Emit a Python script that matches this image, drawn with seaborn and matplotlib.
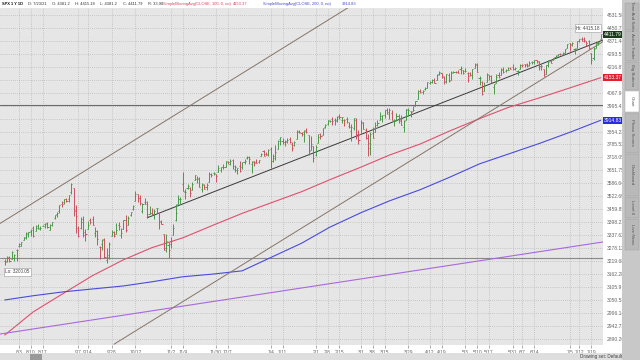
import numpy as np
import pandas as pd
import matplotlib
matplotlib.use("Agg")
import matplotlib.pyplot as plt
import seaborn as sns
from matplotlib.patches import Rectangle
from matplotlib.ticker import NullLocator

# trading days shown (1 year, daily bars)
holidays = ["2020-09-07", "2020-11-26", "2020-12-25", "2021-01-01", "2021-01-18",
            "2021-02-15", "2021-04-02", "2021-05-31", "2021-07-05"]
days = pd.bdate_range("2020-07-24", "2021-07-23")
days = days[~days.isin(pd.to_datetime(holidays))]

opens = [3219, 3219, 3235, 3227, 3232, 3270,
         3289, 3289, 3317, 3323, 3341, 3357, 3370, 3356, 3373, 3368, 3381, 3388, 3392, 3361, 3386, 3418, 3436, 3449, 3486, 3494, 3509,
         3507, 3543, 3565, 3453, 3372, 3369, 3413, 3353, 3364, 3407, 3411, 3347, 3357, 3285, 3296, 3321, 3226, 3236, 3333, 3350, 3341,
         3385, 3339, 3367, 3409, 3385, 3434, 3459, 3500, 3534, 3515, 3453, 3493, 3494, 3439, 3440, 3439, 3465, 3441, 3404, 3342, 3278, 3293,
         3297, 3336, 3407, 3485, 3508, 3583, 3544, 3563, 3562, 3553, 3601, 3610, 3612, 3559, 3580, 3566, 3594, 3635, 3638, 3634,
         3645, 3654, 3669, 3671, 3694, 3683, 3706, 3661, 3656, 3675, 3667, 3697, 3714, 3722, 3684, 3698, 3693, 3694, 3723, 3750, 3737, 3734,
         3764, 3699, 3713, 3764, 3816, 3803, 3801, 3802, 3814, 3788, 3782, 3817, 3858, 3845, 3852, 3862, 3836, 3755, 3779,
         3732, 3791, 3840, 3836, 3878, 3893, 3910, 3920, 3916, 3912, 3939, 3919, 3915, 3921, 3885, 3857, 3873, 3915, 3839,
         3842, 3903, 3863, 3818, 3793, 3844, 3851, 3891, 3916, 3924, 3943, 3974, 3949, 3953, 3913, 3916, 3937, 3919, 3880, 3917, 3970, 3964, 3968,
         3993, 4035, 4075, 4074, 4089, 4096, 4124, 4130, 4141, 4140, 4174, 4180, 4160, 4129, 4171, 4139, 4185, 4189, 4185, 4206, 4198,
         4192, 4180, 4178, 4169, 4210, 4229, 4150, 4131, 4075, 4130, 4170, 4165, 4098, 4122, 4168, 4170, 4205, 4191, 4201, 4210,
         4216, 4207, 4191, 4207, 4229, 4234, 4232, 4229, 4243, 4248, 4256, 4249, 4220, 4204, 4174, 4225, 4249, 4257, 4274, 4285, 4293, 4290,
         4301, 4327, 4356, 4351, 4321, 4330, 4373, 4381, 4381, 4370, 4368, 4296, 4266, 4331, 4361, 4381]

highs = [3227, 3241, 3243, 3264, 3251, 3272,
         3302, 3307, 3331, 3351, 3353, 3364, 3381, 3387, 3388, 3379, 3387, 3395, 3399, 3391, 3400, 3432, 3445, 3481, 3501, 3510, 3514,
         3529, 3588, 3565, 3479, 3380, 3424, 3426, 3368, 3403, 3419, 3428, 3376, 3363, 3286, 3320, 3324, 3279, 3306, 3360, 3358, 3393,
         3397, 3370, 3409, 3432, 3426, 3447, 3482, 3550, 3534, 3527, 3490, 3515, 3502, 3476, 3465, 3461, 3466, 3441, 3409, 3342, 3342, 3305,
         3331, 3389, 3486, 3529, 3521, 3646, 3558, 3581, 3570, 3593, 3628, 3624, 3620, 3586, 3582, 3590, 3642, 3636, 3644, 3634,
         3679, 3670, 3682, 3700, 3698, 3708, 3712, 3678, 3665, 3698, 3695, 3711, 3725, 3726, 3702, 3700, 3712, 3704, 3740, 3756, 3744, 3760,
         3770, 3738, 3784, 3811, 3827, 3818, 3811, 3820, 3823, 3796, 3805, 3860, 3862, 3853, 3860, 3871, 3836, 3831, 3779,
         3784, 3843, 3847, 3872, 3894, 3916, 3919, 3932, 3925, 3937, 3951, 3933, 3921, 3931, 3903, 3895, 3929, 3926, 3862,
         3914, 3906, 3875, 3843, 3851, 3881, 3903, 3918, 3961, 3945, 3970, 3981, 3984, 3969, 3920, 3956, 3950, 3943, 3919, 3978, 3981, 3968, 3995,
         4021, 4084, 4087, 4083, 4098, 4130, 4132, 4148, 4151, 4174, 4191, 4181, 4164, 4176, 4180, 4195, 4194, 4193, 4201, 4219, 4199,
         4209, 4187, 4187, 4203, 4238, 4237, 4162, 4134, 4131, 4183, 4171, 4170, 4117, 4173, 4189, 4209, 4213, 4203, 4213, 4218,
         4234, 4216, 4198, 4234, 4232, 4236, 4237, 4250, 4249, 4255, 4258, 4251, 4232, 4204, 4226, 4256, 4256, 4271, 4286, 4293, 4300, 4302,
         4320, 4355, 4357, 4362, 4331, 4372, 4386, 4393, 4393, 4370, 4376, 4296, 4337, 4360, 4370, 4415]

lows = [3200, 3214, 3216, 3227, 3220, 3220,
        3285, 3288, 3317, 3318, 3329, 3335, 3329, 3356, 3364, 3361, 3380, 3371, 3369, 3360, 3379, 3413, 3425, 3444, 3469, 3486, 3494,
        3494, 3535, 3427, 3349, 3329, 3367, 3329, 3311, 3364, 3390, 3383, 3328, 3292, 3229, 3271, 3233, 3209, 3228, 3333, 3327, 3341,
        3362, 3324, 3367, 3354, 3385, 3426, 3458, 3500, 3496, 3481, 3441, 3483, 3419, 3435, 3433, 3415, 3441, 3364, 3388, 3268, 3259, 3234,
        3280, 3336, 3405, 3485, 3485, 3547, 3511, 3557, 3519, 3553, 3601, 3589, 3567, 3544, 3556, 3553, 3594, 3617, 3630, 3595,
        3645, 3644, 3661, 3669, 3684, 3678, 3660, 3646, 3633, 3646, 3660, 3685, 3710, 3685, 3637, 3676, 3689, 3690, 3723, 3723, 3730, 3726,
        3663, 3695, 3705, 3764, 3785, 3789, 3776, 3792, 3792, 3750, 3780, 3817, 3845, 3831, 3797, 3847, 3732, 3755, 3694,
        3726, 3791, 3817, 3836, 3874, 3892, 3903, 3890, 3891, 3905, 3923, 3899, 3885, 3901, 3874, 3805, 3860, 3814, 3789,
        3842, 3868, 3815, 3723, 3730, 3819, 3851, 3886, 3916, 3903, 3925, 3949, 3922, 3914, 3885, 3910, 3901, 3889, 3853, 3917, 3939, 3934, 3966,
        3992, 4035, 4068, 4063, 4083, 4095, 4115, 4124, 4121, 4140, 4171, 4150, 4119, 4126, 4130, 4138, 4183, 4181, 4182, 4177, 4174,
        4188, 4128, 4162, 4147, 4210, 4188, 4111, 4056, 4075, 4130, 4143, 4125, 4062, 4122, 4152, 4168, 4183, 4189, 4197, 4203,
        4197, 4198, 4168, 4207, 4213, 4215, 4218, 4221, 4233, 4235, 4239, 4196, 4196, 4164, 4174, 4218, 4240, 4257, 4267, 4281, 4287, 4287,
        4300, 4327, 4313, 4340, 4290, 4330, 4363, 4369, 4363, 4341, 4325, 4233, 4259, 4328, 4348, 4381]

closes = [3216, 3239, 3218, 3258, 3246, 3271,
          3295, 3307, 3328, 3349, 3351, 3360, 3334, 3380, 3373, 3373, 3382, 3390, 3375, 3386, 3397, 3431, 3444, 3479, 3485, 3508, 3500,
          3527, 3581, 3455, 3427, 3332, 3399, 3339, 3341, 3384, 3401, 3385, 3357, 3319, 3281, 3316, 3237, 3247, 3298, 3352, 3335, 3363,
          3381, 3348, 3409, 3361, 3419, 3447, 3477, 3534, 3512, 3489, 3483, 3484, 3427, 3443, 3436, 3453, 3465, 3401, 3391, 3271, 3310, 3270,
          3310, 3369, 3443, 3510, 3509, 3551, 3546, 3573, 3537, 3585, 3627, 3610, 3568, 3582, 3558, 3578, 3635, 3630, 3638, 3622,
          3662, 3669, 3667, 3699, 3692, 3702, 3673, 3668, 3663, 3647, 3695, 3701, 3722, 3709, 3695, 3687, 3690, 3703, 3735, 3727, 3732, 3756,
          3701, 3727, 3748, 3804, 3825, 3800, 3801, 3810, 3796, 3768, 3799, 3852, 3853, 3841, 3855, 3850, 3751, 3787, 3714,
          3774, 3826, 3830, 3872, 3887, 3916, 3911, 3910, 3916, 3935, 3933, 3931, 3914, 3907, 3877, 3881, 3925, 3829, 3811,
          3902, 3870, 3820, 3768, 3842, 3821, 3875, 3899, 3939, 3943, 3969, 3963, 3974, 3915, 3913, 3941, 3911, 3889, 3910, 3975, 3971, 3959, 3973,
          4020, 4078, 4074, 4080, 4097, 4129, 4128, 4142, 4125, 4170, 4185, 4163, 4135, 4173, 4135, 4180, 4188, 4187, 4183, 4211, 4181,
          4193, 4165, 4168, 4202, 4233, 4188, 4152, 4063, 4113, 4174, 4163, 4128, 4116, 4159, 4156, 4197, 4188, 4196, 4201, 4204,
          4202, 4208, 4193, 4230, 4227, 4227, 4220, 4239, 4247, 4255, 4247, 4224, 4222, 4166, 4225, 4246, 4242, 4266, 4281, 4291, 4292, 4298,
          4320, 4352, 4344, 4358, 4321, 4370, 4385, 4369, 4374, 4360, 4327, 4258, 4323, 4359, 4367, 4411.79]

# moving averages at intervals
sma_idx = [0, 12, 25, 37, 50, 62, 75, 88, 100, 112, 125, 137, 150, 162, 175, 187, 200, 212, 225, 238, 251]
sma100 = [2905, 3000, 3080, 3155, 3225, 3280, 3325, 3385, 3440, 3490, 3545, 3605, 3668, 3730,
          3788, 3855, 3924, 3985, 4038, 4095, 4153.37]
sma200 = [3050, 3068, 3085, 3097, 3110, 3128, 3150, 3162, 3176, 3235, 3300, 3375, 3443, 3500,
          3555, 3615, 3685, 3735, 3790, 3850, 3914.83]

# drawings (bar index, price)
upper_channel = ([-2, 170], [3392, 4822])
lower_channel = ([46, 252], [2868, 4367])
trend_line = ([60, 252], [3419, 4377])
purple_line = ([-2, 252], [2909, 3306])
hlines_price = [4000, 3233]

y_ticks = [4531.58, 4450.73, 4371.44, 4293.51, 4216.87, 4141.64, 4067.94, 3995.42, 3924.16,
           3854.23, 3785.52, 3718.05, 3651.75, 3586.64, 3522.69, 3459.85, 3398.21, 3337.62,
           3278.12, 3219.68, 3162.28, 3105.9, 3050.53, 2996.14, 2942.73, 2890.26]
# labels hidden behind the SMA price markers
hidden_ticks = [4141.64, 3924.16]

tick_dates = ["2020-08-03", "2020-08-10", "2020-08-17", "2020-09-07", "2020-09-14", "2020-09-28",
              "2020-10-12", "2020-11-02", "2020-11-09", "2020-11-30", "2020-12-07", "2021-01-04",
              "2021-01-11", "2021-02-01", "2021-02-08", "2021-02-15", "2021-03-01", "2021-03-08",
              "2021-03-15", "2021-03-29", "2021-04-12", "2021-04-19", "2021-05-03", "2021-05-10",
              "2021-05-17", "2021-05-31", "2021-06-07", "2021-06-14", "2021-07-05", "2021-07-12",
              "2021-07-19"]
tick_labels = ["8/3", "8/10", "8/17", "9/7", "9/14", "9/28", "10/12", "11/2", "11/9", "11/30",
               "12/7", "1/4", "1/11", "2/1", "2/8", "2/15", "3/1", "3/8", "3/15", "3/29", "4/12",
               "4/19", "5/3", "5/10", "5/17", "5/31", "6/7", "6/14", "7/5", "7/12", "7/19"]

side_tabs = ["Time And Sales", "Active Trader", "Big Buttons", "Chart", "Phase Scores",
             "Dashboard", "Level II", "Live News"]

sns.set_theme(style="white")
plt.rcParams["font.family"] = ["Liberation Sans", "DejaVu Sans"]

W, H = 640, 360
fig = plt.figure(figsize=(6.4, 3.6), dpi=100)
fig.patch.set_facecolor("white")


def px_rect(x0, y0, x1, y1):
    return [x0 / W, 1 - y1 / H, (x1 - x0) / W, (y1 - y0) / H]


ax = fig.add_axes(px_rect(0, 8, 603, 345))
ax.set_facecolor("#e6e6e6")
ax.set_yscale("log")
ax.set_xlim(-2, 252)
ax.set_ylim(2865, 4576)

# OHLC bars
x = np.arange(len(closes))
o = np.array(opens, dtype=float)
c = np.array(closes, dtype=float)
col = np.where(c >= o, "#4a984a", "#cc5060")
ax.vlines(x, lows, highs, colors=col, linewidth=0.7, zorder=3)
ax.hlines(o, x - 0.45, x, colors=col, linewidth=0.7, zorder=3)
ax.hlines(c, x, x + 0.45, colors=col, linewidth=0.7, zorder=3)

# moving averages
sns.lineplot(x=sma_idx, y=sma100, ax=ax, color="#e0506e", linewidth=0.8, zorder=2)
sns.lineplot(x=sma_idx, y=sma200, ax=ax, color="#4a4ae0", linewidth=0.8, zorder=2)

# drawings
ax.plot(*purple_line, color="#a868e0", linewidth=0.8, zorder=2)
ax.plot(*upper_channel, color="#857468", linewidth=0.7, zorder=2)
ax.plot(*lower_channel, color="#857468", linewidth=0.7, zorder=2)
ax.plot(*trend_line, color="#3a3a3a", linewidth=0.7, zorder=2)
ax.axhline(hlines_price[0], color="#6a6a6a", linewidth=0.8, zorder=1)
ax.axhline(hlines_price[1], color="#8a8a8a", linewidth=0.8, zorder=1)

# axes, ticks, grid
ax.set_xlabel("")
ax.set_ylabel("")
ax.yaxis.tick_right()
ax.set_yticks(y_ticks)
ax.set_yticklabels(["" if v in hidden_ticks else f"{v:g}" for v in y_ticks])
ax.yaxis.set_minor_locator(NullLocator())
ax.tick_params(axis="y", length=0, pad=3, labelsize=3.6, labelcolor="#666666")
tick_pos = days.searchsorted(pd.to_datetime(tick_dates))
ax.set_xticks(tick_pos)
ax.set_xticklabels(tick_labels)
ax.tick_params(axis="x", length=2, width=0.5, color="#888888", pad=1.5,
               labelsize=3.5, labelcolor="#666666", bottom=True)
ax.grid(True, color="#a9a9a9", linestyle=(0, (1, 2)), linewidth=0.5)
for s in ax.spines.values():
    s.set_visible(False)

# price markers on the right axis
yt = ax.get_yaxis_transform()
for val, fc in [(closes[-1], "#1c3d1c"), (sma100[-1], "#e0202a"), (sma200[-1], "#2a2ae0")]:
    ax.text(1.002, val, f"{val:.2f}", transform=yt, ha="left", va="center", fontsize=3.6,
            color="white", zorder=6,
            bbox=dict(boxstyle="square,pad=0.2", fc=fc, ec="none"))

# hi / lo bubbles
ax.text(250.5, 4450, "Hi: 4415.18", ha="right", va="center", fontsize=3.3, color="#444444",
        zorder=6, bbox=dict(boxstyle="square,pad=0.25", fc="white", ec="#999999", lw=0.4))
ax.text(0.2, 3171, "Lo: 3200.05", ha="left", va="center", fontsize=3.3, color="#444444",
        zorder=6, bbox=dict(boxstyle="square,pad=0.25", fc="white", ec="#999999", lw=0.4))

# header line
red_t, blue_t = "#d8405a", "#4444cc"
header = [(2, "SPX 1 Y 1D", "#111111", "bold"), (28, "D: 7/23/21", "#333333", "normal"),
          (52, "O: 4381.2", "#333333", "normal"), (75, "H: 4415.18", "#333333", "normal"),
          (100, "L: 4381.2", "#333333", "normal"), (123, "C: 4411.79", "#333333", "normal"),
          (148, "R: 33.98", "#333333", "normal"),
          (163, "SimpleMovingAvg(CLOSE, 100, 0, no)", red_t, "normal"),
          (233, "4153.37", red_t, "normal"),
          (263, "SimpleMovingAvg(CLOSE, 200, 0, no)", blue_t, "normal"),
          (342, "3914.83", blue_t, "normal")]
for hx, txt, hc, hw in header:
    fig.text(hx / W, 1 - 4 / H, txt, ha="left", va="center", fontsize=2.9, color=hc,
             fontweight=hw)

# side panel with tabs
side = fig.add_axes(px_rect(622, 0, 640, 360))
side.set_xlim(0, 18)
side.set_ylim(360, 0)
side.axis("off")
side.add_patch(Rectangle((0, 0), 18, 360, fc="#c8c8c8", ec="none"))
tab_edges = [2, 30, 61, 90, 112, 153, 196, 218, 250]
for i, name in enumerate(side_tabs):
    y0, y1 = tab_edges[i], tab_edges[i + 1]
    fc = "white" if name == "Chart" else "#b9b9b9"
    side.add_patch(Rectangle((3, y0 + 0.5), 14, y1 - y0 - 1, fc=fc, ec="#a0a0a0", lw=0.3))
    side.text(10, (y0 + y1) / 2, name, rotation=270, ha="center", va="center",
              fontsize=3.2, color="#555555")

# bottom strip
bot = fig.add_axes(px_rect(0, 352, 622, 360))
bot.set_xlim(0, 622)
bot.set_ylim(8, 0)
bot.axis("off")
bot.add_patch(Rectangle((0, 1), 622, 7, fc="#dedede", ec="none"))
bot.add_patch(Rectangle((30, 1.5), 12, 6, fc="#9a9a9a", ec="none"))
bot.text(622, 4.2, "Drawing set: Default", ha="right", va="center", fontsize=3.3,
         color="#444444")

fig.savefig("out.png", dpi=100)
